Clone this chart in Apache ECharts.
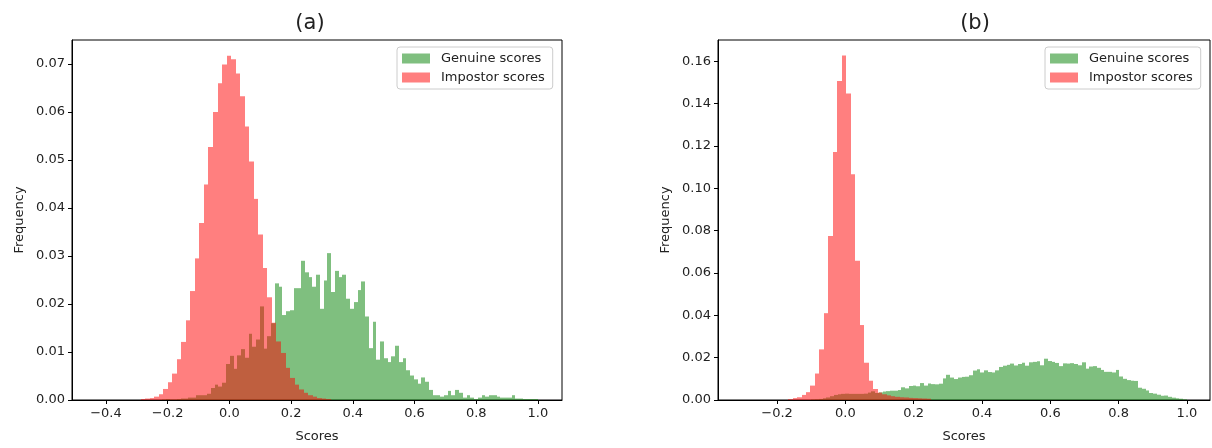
<!DOCTYPE html>
<html>
<head>
<meta charset="utf-8">
<title>Genuine vs impostor score histograms</title>
<script src="https://cdn.jsdelivr.net/npm/echarts@6/dist/echarts.min.js"></script>
<style>
  html, body { margin: 0; padding: 0; background: #fff; }
  #chart { width: 1212px; height: 448px; }
</style>
</head>
<body>
<div id="chart"></div>
<script>
// ---- data (bin heights, normalised so each histogram sums to ~1) ----
const xTicksA = [-0.4, -0.2, 0.0, 0.2, 0.4, 0.6, 0.8, 1.0];
const xTicksB = [-0.2, 0.0, 0.2, 0.4, 0.6, 0.8, 1.0];

// panel (a) genuine: 100 bins starting at -0.218
const genuineAStart = -0.218;
const genuineAWidth = 0.01218;
const genuineA = [
  0.0001, 0.0002, 0.0001, 0.0001, 0.0002, 0.0003, 0.0003, 0.0005, 0.0005, 0.0010,
  0.0010, 0.0010, 0.0013, 0.0025, 0.0032, 0.0028, 0.0036, 0.0075, 0.0092, 0.0065,
  0.0093, 0.0106, 0.0088, 0.0138, 0.0111, 0.0126, 0.0195, 0.0107, 0.0133, 0.0160,
  0.0243, 0.0236, 0.0177, 0.0185, 0.0187, 0.0233, 0.0233, 0.0290, 0.0266, 0.0256,
  0.0236, 0.0261, 0.0190, 0.0249, 0.0306, 0.0225, 0.0269, 0.0256, 0.0261, 0.0211,
  0.0190, 0.0204, 0.0229, 0.0247, 0.0174, 0.0108, 0.0163, 0.0084, 0.0122, 0.0087,
  0.0079, 0.0091, 0.0113, 0.0079, 0.0087, 0.0062, 0.0051, 0.0043, 0.0034, 0.0047,
  0.0038, 0.0021, 0.0010, 0.0010, 0.0007, 0.0010, 0.0019, 0.0010, 0.0021, 0.0015,
  0.0005, 0.0010, 0.0005, 0.0002, 0.0005, 0.0010, 0.0007, 0.0010, 0.0010, 0.0007,
  0.0005, 0.0005, 0.0005, 0.0010, 0.0003, 0.0003, 0.0002, 0.0002, 0.0002, 0.0002
];

// panel (a) impostor
const impostorAStart = -0.288;
const impostorAWidth = 0.01469;
const impostorA = [
  0.0002, 0.0003, 0.0004, 0.0007, 0.0012, 0.0023, 0.0037, 0.0055, 0.0085, 0.0121,
  0.0166, 0.0227, 0.0295, 0.0369, 0.0449, 0.0527, 0.0600, 0.0660, 0.0699, 0.0717,
  0.0710, 0.0680, 0.0633, 0.0570, 0.0497, 0.0419, 0.0345, 0.0275, 0.0214, 0.0161,
  0.0122, 0.0098, 0.0067, 0.0046, 0.0032, 0.0022, 0.0015, 0.0010, 0.0007, 0.0004,
  0.0003, 0.0002
];

// panel (b) genuine: 100 bins starting at -0.1
const genuineBStart = -0.1;
const genuineBWidth = 0.011;
const genuineB = [
  0.0002, 0.0003, 0.0005, 0.0008, 0.0012, 0.0018, 0.0024, 0.0027, 0.0029, 0.0030,
  0.0029, 0.0029, 0.0029, 0.0029, 0.0030, 0.0035, 0.0041, 0.0033, 0.0036, 0.0040,
  0.0042, 0.0044, 0.0044, 0.0047, 0.0060, 0.0055, 0.0066, 0.0068, 0.0065, 0.0080,
  0.0068, 0.0078, 0.0075, 0.0074, 0.0077, 0.0102, 0.0119, 0.0106, 0.0099, 0.0106,
  0.0109, 0.0110, 0.0117, 0.0139, 0.0145, 0.0130, 0.0140, 0.0132, 0.0130, 0.0140,
  0.0156, 0.0162, 0.0166, 0.0172, 0.0163, 0.0170, 0.0176, 0.0162, 0.0178, 0.0180,
  0.0183, 0.0164, 0.0195, 0.0184, 0.0180, 0.0175, 0.0160, 0.0173, 0.0172, 0.0174,
  0.0170, 0.0164, 0.0178, 0.0148, 0.0158, 0.0160, 0.0152, 0.0142, 0.0133, 0.0133,
  0.0130, 0.0142, 0.0111, 0.0100, 0.0094, 0.0091, 0.0090, 0.0058, 0.0053, 0.0045,
  0.0033, 0.0030, 0.0025, 0.0020, 0.0021, 0.0015, 0.0011, 0.0008, 0.0006, 0.0003
];

// panel (b) impostor
const impostorBStart = -0.1678;
const impostorBWidth = 0.0131;
const impostorB = [
  0.0004, 0.0009, 0.0013, 0.0024, 0.0037, 0.0068, 0.0125, 0.0239, 0.0410, 0.0775,
  0.1171, 0.1506, 0.1627, 0.1447, 0.1066, 0.0658, 0.0354, 0.0176, 0.0091, 0.0052,
  0.0035, 0.0027, 0.0022, 0.0018, 0.0015, 0.0013, 0.0012, 0.0010, 0.0009, 0.0008,
  0.0007, 0.0006
];

// ---- helpers ----
function toBins(values, start, width) {
  return values.map((v, i) => [start + i * width, start + (i + 1) * width, v]);
}

// snap bin edges to whole pixels so neighbouring bins don't leave seams
function renderBin(params, api) {
  const top = api.coord([api.value(0), api.value(2)]);
  const bottom = api.coord([api.value(1), 0]);
  const x0 = Math.round(top[0]);
  const x1 = Math.round(bottom[0]);
  return {
    type: 'rect',
    shape: { x: x0, y: top[1], width: x1 - x0, height: bottom[1] - top[1] },
    style: { fill: api.visual('color') }
  };
}

function fmtX(v) {
  return (v < 0 ? '\u2212' : '') + Math.abs(v).toFixed(1);
}

const FONT = 'DejaVu Sans';
const GREEN = 'rgba(0,128,0,0.5)';
const RED = 'rgba(255,0,0,0.5)';

function xAxis(idx, min, max, ticks) {
  return {
    type: 'value',
    gridIndex: idx,
    min: min,
    max: max,
    name: 'Scores',
    nameLocation: 'middle',
    nameGap: 30,
    nameTextStyle: { fontFamily: FONT, fontSize: 13, color: '#222' },
    axisLine: { show: true, onZero: false, lineStyle: { color: '#000', width: 1 } },
    axisTick: { show: true, length: 4, customValues: ticks, lineStyle: { color: '#000' } },
    axisLabel: { customValues: ticks, formatter: fmtX, margin: 7, fontFamily: FONT, fontSize: 13, color: '#222' },
    splitLine: { show: false }
  };
}

function yAxis(idx, max, step, gap) {
  return {
    type: 'value',
    gridIndex: idx,
    min: 0,
    max: max,
    interval: step,
    name: 'Frequency',
    nameLocation: 'middle',
    nameGap: gap,
    nameTextStyle: { fontFamily: FONT, fontSize: 13, color: '#222' },
    axisLine: { show: true, onZero: false, lineStyle: { color: '#000', width: 1 } },
    axisTick: { show: true, length: 4, lineStyle: { color: '#000' } },
    axisLabel: {
      margin: 7, fontFamily: FONT, fontSize: 13, color: '#222',
      formatter: v => v.toFixed(2),
      showMaxLabel: false
    },
    splitLine: { show: false }
  };
}

function legend(left) {
  return {
    left: left,
    top: 47,
    orient: 'vertical',
    data: ['Genuine scores', 'Impostor scores'],
    icon: 'rect',
    itemWidth: 28,
    itemHeight: 10,
    itemGap: 6,
    padding: [5, 8, 5, 5],
    backgroundColor: 'rgba(255,255,255,0.8)',
    borderColor: '#cccccc',
    borderWidth: 1,
    borderRadius: 3,
    textStyle: { fontFamily: FONT, fontSize: 13, color: '#222', padding: [0, 0, 0, 6] }
  };
}

function histSeries(name, data, idx, color) {
  return {
    type: 'custom',
    name: name,
    xAxisIndex: idx,
    yAxisIndex: idx,
    renderItem: renderBin,
    encode: { x: [0, 1], y: 2 },
    itemStyle: { color: color },
    data: data,
    silent: true
  };
}

const chart = echarts.init(document.getElementById('chart'), null, { renderer: 'canvas' });

chart.setOption({
  animation: false,
  backgroundColor: '#fff',
  title: [
    { text: '(a)', left: 305, top: 8, textAlign: 'center', textStyle: { fontFamily: FONT, fontSize: 21, fontWeight: 'normal', color: '#222' } },
    { text: '(b)', left: 970, top: 8, textAlign: 'center', textStyle: { fontFamily: FONT, fontSize: 21, fontWeight: 'normal', color: '#222' } }
  ],
  legend: [legend(397), legend(1045)],
  grid: [
    { left: 72, top: 40, width: 490, height: 364, show: true, borderColor: '#000', borderWidth: 1, backgroundColor: 'transparent' },
    { left: 718, top: 40, width: 492, height: 364, show: true, borderColor: '#000', borderWidth: 1, backgroundColor: 'transparent' }
  ],
  xAxis: [
    xAxis(0, -0.51, 1.078, xTicksA),
    xAxis(1, -0.373, 1.0675, xTicksB)
  ],
  yAxis: [
    yAxis(0, 0.075, 0.01, 46),
    yAxis(1, 0.170, 0.02, 46)
  ],
  series: [
    histSeries('Genuine scores', toBins(genuineA, genuineAStart, genuineAWidth), 0, GREEN),
    histSeries('Impostor scores', toBins(impostorA, impostorAStart, impostorAWidth), 0, RED),
    histSeries('Genuine scores', toBins(genuineB, genuineBStart, genuineBWidth), 1, GREEN),
    histSeries('Impostor scores', toBins(impostorB, impostorBStart, impostorBWidth), 1, RED)
  ]
});
</script>
</body>
</html>
